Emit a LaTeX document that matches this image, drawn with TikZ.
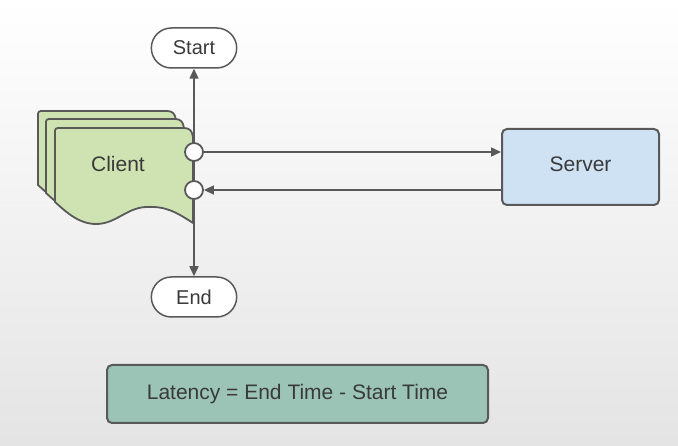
\documentclass[tikz,border=0pt]{standalone}
\usepackage{fontspec}
\setmainfont{Liberation Sans}
\usetikzlibrary{arrows.meta,shapes.misc}
\definecolor{edge}{HTML}{595959}
\definecolor{txt}{HTML}{3A3A3A}
\definecolor{clientfill}{HTML}{CFE3B2}
\definecolor{serverfill}{HTML}{CFE2F3}
\definecolor{latfill}{HTML}{9BC4B7}
\definecolor{bgbottom}{HTML}{E4E4E4}
\tikzset{
  term/.style={draw=edge, line width=1.5pt, rounded rectangle, minimum width=92pt, minimum height=40pt, fill=white, text=txt, font=\fontsize{20}{22}\selectfont},
  boxnode/.style={draw=edge, line width=2pt, rounded corners=5pt, text=txt, font=\fontsize{21}{23}\selectfont},
  port/.style={circle, draw=edge, line width=1.8pt, fill=white, minimum size=18pt, inner sep=0pt},
  conn/.style={draw=edge, line width=1.5pt},
  tip/.style={-{Triangle[length=10pt,width=9pt]}},
  sheet/.style={draw=edge, line width=1.8pt, fill=clientfill, line join=round}
}
\begin{document}
\begin{tikzpicture}[x=1pt,y=-1pt]
\shade[top color=white, bottom color=bgbottom] (0,0) rectangle (678,446);
\useasboundingbox (0,0) rectangle (678,446);
% client stack
\foreach \s in {17,9,0}{
  \path[sheet, shift={(-\s,-\s)}] (55,202) -- (55,134) .. controls (55,128) .. (61,128) -- (184,128) .. controls (190,128) and (192,131) .. (193,137) -- (193,223)
    .. controls (176,212) and (166,206) .. (146,207)
    .. controls (126,208) and (116,224) .. (96,224)
    .. controls (79,224) and (66,212) .. (55,202) -- cycle;
}
\node[text=txt, font=\fontsize{21}{23}\selectfont] (client) at (118,164) {Client};
% terminals
\node[term] (start) at (194,48) {Start};
\node[term] (end) at (194,297) {End};
% server
\node[boxnode, fill=serverfill, minimum width=157pt, minimum height=76pt] (server) at (580.5,167) {};
\node[text=txt, font=\fontsize{21}{23}\selectfont] (servertext) at (580.5,164.5) {Server};
% latency
\node[boxnode, fill=latfill, minimum width=381pt, minimum height=58pt] (lat) at (297.5,394) {Latency = End Time - Start Time};
% vertical line
\draw[conn, {Triangle[length=10pt,width=9pt]}-{Triangle[length=10pt,width=9pt]}] (start.south) -- (end.north);
% ports
\node[port] (p1) at (194,152) {};
\node[port] (p2) at (194,190) {};
\draw[conn, tip] (p1.east) -- (server.west |- p1);
\draw[conn, tip] (server.west |- p2) -- (p2.east);
\end{tikzpicture}
\end{document}
